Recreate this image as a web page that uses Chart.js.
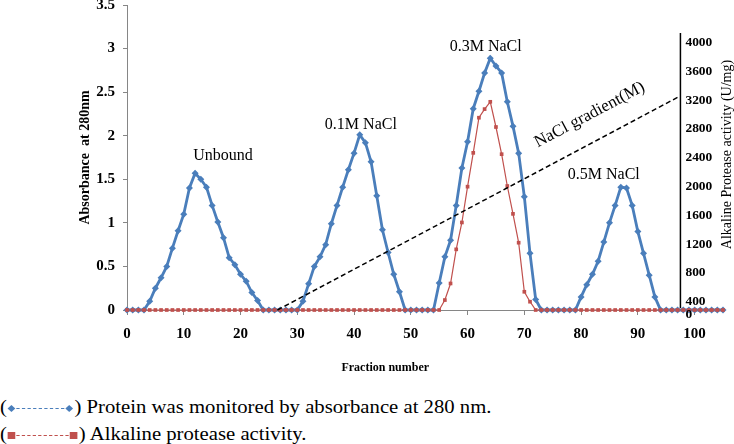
<!DOCTYPE html>
<html>
<head>
<meta charset="utf-8">
<script src="https://cdn.jsdelivr.net/npm/chart.js@4.4.0/dist/chart.umd.min.js"></script>
<style>
    html, body { margin: 0; padding: 0; background: #fff; }
    #wrap { position: relative; width: 734px; height: 380px; }
    .note { position: absolute; left: 0; font-family: "Liberation Serif", "Times New Roman", serif; font-size: 19px; line-height: 27px; white-space: nowrap; color: #000; transform: scaleX(1.09); transform-origin: left center; }
    .dia { display: inline-block; width: 5px; height: 5px; background: #4a7ebb; transform: rotate(45deg); vertical-align: middle; margin: 0 2px; }
    .sq { display: inline-block; width: 7px; height: 7px; background: #c0504d; vertical-align: middle; margin: 0 1px; }
    .dash { display: inline-block; width: 44px; vertical-align: middle; }
    .dash.blue { border-top: 1px dashed #4a7ebb; }
    .dash.red { border-top: 1px dashed #c0504d; width: 48px; }
</style>
</head>
<body>
<div id="wrap"><canvas id="chartFractions"></canvas></div>
<div class="note" style="top:393px">(<i class="dia"></i><i class="dash blue"></i><i class="dia"></i>) Protein was monitored by absorbance at 280 nm.</div>
<div class="note" style="top:420px">(<i class="sq"></i><i class="dash red"></i><i class="sq"></i>) Alkaline protease activity.</div>
<script>
// Fraction number (x)
const fractions = [
    0, 1, 2, 3, 4, 5, 6, 7, 8, 9,
    10, 11, 12, 13, 14, 15, 16, 17, 18, 19,
    20, 21, 22, 23, 24, 25, 26, 27, 28, 29,
    30, 31, 32, 33, 34, 35, 36, 37, 38, 39,
    40, 41, 42, 43, 44, 45, 46, 47, 48, 49,
    50, 51, 52, 53, 54, 55, 56, 57, 58, 59,
    60, 61, 62, 63, 64, 65, 66, 67, 68, 69,
    70, 71, 72, 73, 74, 75, 76, 77, 78, 79,
    80, 81, 82, 83, 84, 85, 86, 87, 88, 89,
    90, 91, 92, 93, 94, 95, 96, 97, 98, 99,
    100, 101, 102, 103, 104, 105
];

// Absorbance at 280nm (left axis)
const absorbance = [
    0, 0, 0, 0, 0.1, 0.25, 0.37, 0.5, 0.71, 0.91,
    1.1, 1.4, 1.57, 1.5, 1.41, 1.2, 1.01, 0.83, 0.6, 0.52,
    0.41, 0.33, 0.2, 0.11, 0, 0, 0, 0, 0, 0,
    0, 0.1, 0.3, 0.5, 0.61, 0.75, 0.99, 1.2, 1.41, 1.61,
    1.8, 2.01, 1.92, 1.7, 1.31, 0.92, 0.66, 0.41, 0.21, 0,
    0, 0, 0, 0, 0, 0.31, 0.61, 0.8, 1.2, 1.63,
    1.93, 2.31, 2.51, 2.72, 2.89, 2.8, 2.72, 2.39, 2.11, 1.8,
    1.3, 0.65, 0.12, 0, 0, 0, 0, 0, 0, 0,
    0.15, 0.29, 0.41, 0.56, 0.78, 1.0, 1.2, 1.41, 1.4, 1.2,
    0.9, 0.65, 0.4, 0.15, 0, 0, 0, 0, 0, 0,
    0, 0, 0, 0, 0, 0
];

// Alkaline protease activity U/mg (right axis)
const activity = [
    0, 0, 0, 0, 0, 0, 0, 0, 0, 0,
    0, 0, 0, 0, 0, 0, 0, 0, 0, 0,
    0, 0, 0, 0, 0, 0, 0, 0, 0, 0,
    0, 0, 0, 0, 0, 0, 0, 0, 0, 0,
    0, 0, 0, 0, 0, 0, 0, 0, 0, 0,
    0, 0, 0, 0, 0, 0, 150, 400, 915, 1320,
    1860, 2370, 2900, 3030, 3140, 2760, 2350, 1870, 1450, 1015,
    275, 125, 0, 0, 0, 0, 0, 0, 0, 0,
    0, 0, 0, 0, 0, 0, 0, 0, 0, 0,
    0, 0, 0, 0, 0, 0, 0, 0, 0, 0,
    0, 0, 0, 0, 0, 0
];

// NaCl gradient line (drawn against left axis)
const gradientFraction = [26.5, 97];
const gradientLevel = [0, 2.44];

const fractionTicks = [0, 10, 20, 30, 40, 50, 60, 70, 80, 90, 100];
const activityTicks = [0, 400, 800, 1200, 1600, 2000, 2400, 2800, 3200, 3600, 4000];

const peakNames = ["Unbound", "0.1M NaCl", "0.3M NaCl", "0.5M NaCl"];

// ----- ----- ----- ----- -----

const SERIF = '"Liberation Serif", "Times New Roman", serif';
const BLUE = "rgb(74,126,187)";
const RED = "rgb(192,80,77)";
const AXIS_GREY = "#868686";

// where the labels sit, in data units
const peakLabelAt = [[16.9, 1.77], [41.2, 2.12], [63.2, 3.02], [84, 1.55]];
const gradientLabelAt = [81.5, 2.24];
const rightAxisAt = 97.5;

const annotations = {
    id: "annotations",
    afterDatasetsDraw(chart) {
        const { ctx, scales } = chart;
        const x = scales.x, y = scales.y, y2 = scales.y2;
        ctx.save();
        ctx.fillStyle = "#000";
        ctx.textAlign = "center";
        ctx.textBaseline = "middle";

        // peak labels
        ctx.font = "16px " + SERIF;
        peakNames.forEach((name, i) => {
            ctx.fillText(name, x.getPixelForValue(peakLabelAt[i][0]), y.getPixelForValue(peakLabelAt[i][1]));
        });

        // gradient label
        ctx.save();
        ctx.translate(x.getPixelForValue(gradientLabelAt[0]), y.getPixelForValue(gradientLabelAt[1]));
        ctx.rotate(-28 * Math.PI / 180);
        ctx.font = "17px " + SERIF;
        ctx.fillText("NaCl gradient(M)", 0, 0);
        ctx.restore();

        // x title
        ctx.font = "bold 12px " + SERIF;
        ctx.fillText("Fraction number", x.getPixelForValue(45.5), 368);

        // right axis
        const px = x.getPixelForValue(rightAxisAt);
        ctx.strokeStyle = "#000";
        ctx.lineWidth = 1.5;
        ctx.beginPath();
        ctx.moveTo(px, y2.getPixelForValue(4140));
        ctx.lineTo(px, y2.bottom - 2);
        ctx.stroke();

        ctx.font = "bold 12px " + SERIF;
        ctx.textAlign = "left";
        activityTicks.forEach((v) => {
            const py = v === 0 ? y2.bottom + 5 : y2.getPixelForValue(v);
            ctx.save();
            ctx.translate(px + 5, py);
            ctx.scale(1.12, 1);
            ctx.fillText(String(v), 0, 0);
            ctx.restore();
        });

        ctx.save();
        ctx.textAlign = "center";
        ctx.font = "14px " + SERIF;
        ctx.translate(px + 47, y2.getPixelForValue(2450));
        ctx.rotate(-Math.PI / 2);
        ctx.fillText("Alkaline Protease activity (U/mg)", 0, 0);
        ctx.restore();

        ctx.restore();
    },
};

const config = {
    type: "line",
    data: {
        datasets: [
            {
                label: "NaCl gradient",
                data: gradientFraction.map((f, i) => ({ x: f, y: gradientLevel[i] })),
                yAxisID: "y",
                borderColor: "#000",
                borderWidth: 1.5,
                borderDash: [5, 3],
                pointRadius: 0,
                clip: false,
            },
            {
                label: "Alkaline protease activity",
                data: fractions.map((f, i) => ({ x: f, y: activity[i] })),
                yAxisID: "y1",
                borderColor: RED,
                backgroundColor: RED,
                borderWidth: 1.2,
                pointStyle: "rect",
                pointRadius: 2.6,
                pointBorderWidth: 0,
                tension: 0,
                clip: false,
            },
            {
                label: "Absorbance at 280nm",
                data: fractions.map((f, i) => ({ x: f, y: absorbance[i] })),
                yAxisID: "y",
                borderColor: BLUE,
                backgroundColor: BLUE,
                borderWidth: 2.8,
                pointStyle: "rectRot",
                pointRadius: 3.5,
                pointBorderWidth: 0,
                tension: 0,
                clip: false,
            },
        ],
    },
    options: {
        responsive: true,
        maintainAspectRatio: false,
        animation: false,
        layout: { padding: { left: 73, right: 11, top: 5, bottom: 0 } },
        plugins: {
            legend: { display: false },
            tooltip: { enabled: false },
        },
        scales: {
            x: {
                type: "linear",
                min: 0,
                max: 105,
                afterBuildTicks: (s) => { s.ticks = fractionTicks.map((v) => ({ value: v })); },
                afterFit: (s) => { s.height = 70; },
                ticks: {
                    autoSkip: false,
                    maxRotation: 0,
                    color: "#000",
                    padding: 10,
                    callback: (v) => String(v),
                    font: { family: SERIF, size: 15, weight: "bold" },
                },
                grid: { drawOnChartArea: false, tickLength: 5, color: AXIS_GREY },
                border: { color: AXIS_GREY },
            },
            y: {
                min: 0,
                max: 3.5,
                afterFit: (s) => { s.width = 54; s.paddingTop = 0; },
                ticks: {
                    stepSize: 0.5,
                    color: "#000",
                    padding: 8,
                    callback: (v) => String(v),
                    font: { family: SERIF, size: 15, weight: "bold" },
                },
                grid: { drawOnChartArea: false, tickLength: 4, color: AXIS_GREY },
                border: { color: AXIS_GREY },
                title: {
                    display: true,
                    text: "Absorbance  at 280nm",
                    color: "#000",
                    padding: 4,
                    font: { family: SERIF, size: 14, weight: "bold" },
                },
            },
            // activity values
            y1: { display: false, min: 0, max: 4600 },
            // printed activity labels (placed as in the original figure)
            y2: { display: false, min: 289, max: 4528 },
        },
    },
    plugins: [annotations],
};

new Chart(document.getElementById("chartFractions"), config);
</script>
</body>
</html>
